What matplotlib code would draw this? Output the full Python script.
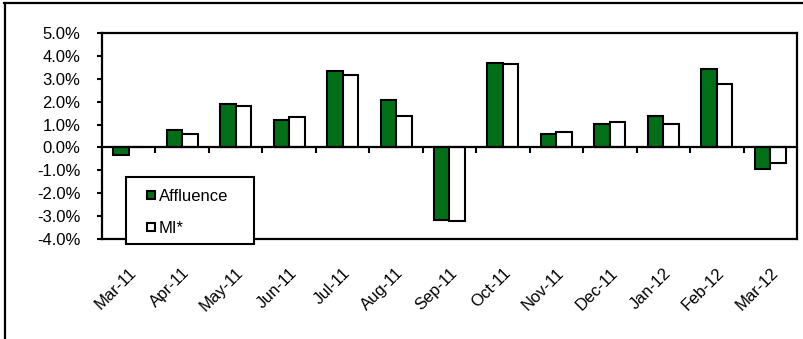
import matplotlib
matplotlib.use("Agg")
import matplotlib.pyplot as plt
from matplotlib.lines import Line2D
from matplotlib.patches import Rectangle
from matplotlib.ticker import FuncFormatter
import numpy as np

plt.rcParams['font.family'] = ['Liberation Sans', 'DejaVu Sans']

months = ["Mar-11", "Apr-11", "May-11", "Jun-11", "Jul-11", "Aug-11", "Sep-11",
          "Oct-11", "Nov-11", "Dec-11", "Jan-12", "Feb-12", "Mar-12"]
affluence = [-0.35, 0.75, 1.89, 1.21, 3.35, 2.09, -3.15, 3.71, 0.60, 1.01, 1.37, 3.44, -0.94]
mi = [0.04, 0.57, 1.81, 1.35, 3.17, 1.36, -3.20, 3.65, 0.66, 1.11, 1.02, 2.75, -0.66]
series_names = ["Affluence", "MI*"]
y_ticks = [-4, -3, -2, -1, 0, 1, 2, 3, 4, 5]

green = "#006f17"
fs = 12
W, H = 804, 339
fig = plt.figure(figsize=(W / 100, H / 100), dpi=100)
ax = fig.add_axes([102 / W, 1 - 239 / H, (797 - 102) / W, (239 - 33) / H])

x = np.arange(len(months))
bw = 0.29
ax.bar(x - bw / 2, affluence, bw, color=green, edgecolor="black", linewidth=1.5,
       label=series_names[0], zorder=3)
ax.bar(x + bw / 2, mi, bw, color="white", edgecolor="black", linewidth=1.5,
       label=series_names[1], zorder=3)

ax.set_xlim(-0.5, len(months) - 0.5)
ax.set_ylim(-4, 5)
ax.set_yticks(y_ticks)
ax.yaxis.set_major_formatter(FuncFormatter(lambda v, p: f"{v:.1f}%"))
ax.tick_params(axis="y", length=3.5, width=1.5, labelsize=fs, pad=12)

ax.set_xticks(x)
ax.set_xticklabels(months, rotation=45, ha="right", va="top", rotation_mode="anchor")
ax.tick_params(axis="x", length=0, labelsize=fs, pad=19)

for s in ax.spines.values():
    s.set_linewidth(1.6)

# category axis crossing at zero, with ticks between categories
ax2 = ax.twiny()
ax2.set_xlim(ax.get_xlim())
ax2.spines['bottom'].set_position(('data', 0))
for k in ['top', 'left', 'right']:
    ax2.spines[k].set_visible(False)
ax2.spines['bottom'].set_linewidth(1.6)
ax2.spines['bottom'].set_zorder(4)
ax2.xaxis.set_ticks_position('bottom')
ax2.set_xticks(x[:-1] + 0.5)
ax2.set_xticklabels([])
ax2.tick_params(axis="x", direction="out", length=4, width=1.5)

# legend box, then its entries on top
fig.add_artist(Rectangle((126 / W, 1 - 244 / H), (254 - 126) / W, (244 - 177) / H,
                         transform=fig.transFigure, facecolor="white",
                         edgecolor="black", linewidth=1.5, zorder=9))
handles, labels = ax.get_legend_handles_labels()
leg = fig.legend(handles, labels, loc="upper left",
                 bbox_to_anchor=(147 / W, 1 - 189 / H),
                 frameon=False, fontsize=fs,
                 handlelength=0.5, handleheight=0.39, handletextpad=0.2,
                 labelspacing=1.03, borderpad=0, borderaxespad=0)
leg.set_zorder(10)

# outer chart border (top and left edges)
fig.add_artist(Line2D([4 / W, 1], [1 - 3 / H, 1 - 3 / H], color="black", lw=1.6))
fig.add_artist(Line2D([5 / W, 5 / W], [0, 1 - 3 / H], color="black", lw=1.6))

fig.savefig("out.png", dpi=100)
